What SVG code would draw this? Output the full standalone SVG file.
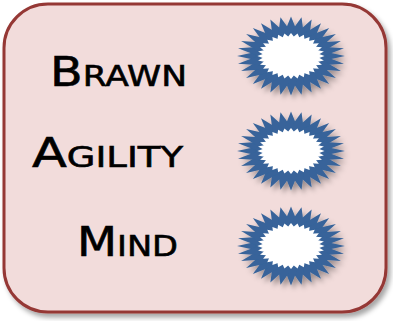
<svg xmlns="http://www.w3.org/2000/svg" xmlns:xlink="http://www.w3.org/1999/xlink" width="393" height="321" viewBox="0 0 393 321">
<style>
.lbl{font-family:"Comic Sans MS","DejaVu Sans","Liberation Sans",sans-serif;font-weight:normal;fill:#000;stroke:#000;stroke-width:0.6}
.big{font-size:40px}
.sm{font-size:29px}
</style>
<defs>
<filter id="sh" x="-20%" y="-20%" width="140%" height="140%">
<feDropShadow dx="3" dy="4" stdDeviation="2.5" flood-color="#000" flood-opacity="0.35"/>
</filter>
<polygon id="rhA" points="1,0 0,0.30 -1,0 0,-0.30"/>
<polygon id="rhB" points="1,0 0,0.55 -1,0 0,-0.55"/>
<g id="burstA">
<use xlink:href="#rhA"/>
<use xlink:href="#rhA" transform="rotate(11.25)"/>
<use xlink:href="#rhA" transform="rotate(22.5)"/>
<use xlink:href="#rhA" transform="rotate(33.75)"/>
<use xlink:href="#rhA" transform="rotate(45)"/>
<use xlink:href="#rhA" transform="rotate(56.25)"/>
<use xlink:href="#rhA" transform="rotate(67.5)"/>
<use xlink:href="#rhA" transform="rotate(78.75)"/>
<use xlink:href="#rhA" transform="rotate(90)"/>
<use xlink:href="#rhA" transform="rotate(101.25)"/>
<use xlink:href="#rhA" transform="rotate(112.5)"/>
<use xlink:href="#rhA" transform="rotate(123.75)"/>
<use xlink:href="#rhA" transform="rotate(135)"/>
<use xlink:href="#rhA" transform="rotate(146.25)"/>
<use xlink:href="#rhA" transform="rotate(157.5)"/>
<use xlink:href="#rhA" transform="rotate(168.75)"/>
</g>
<g id="burstB">
<use xlink:href="#rhB"/>
<use xlink:href="#rhB" transform="rotate(11.25)"/>
<use xlink:href="#rhB" transform="rotate(22.5)"/>
<use xlink:href="#rhB" transform="rotate(33.75)"/>
<use xlink:href="#rhB" transform="rotate(45)"/>
<use xlink:href="#rhB" transform="rotate(56.25)"/>
<use xlink:href="#rhB" transform="rotate(67.5)"/>
<use xlink:href="#rhB" transform="rotate(78.75)"/>
<use xlink:href="#rhB" transform="rotate(90)"/>
<use xlink:href="#rhB" transform="rotate(101.25)"/>
<use xlink:href="#rhB" transform="rotate(112.5)"/>
<use xlink:href="#rhB" transform="rotate(123.75)"/>
<use xlink:href="#rhB" transform="rotate(135)"/>
<use xlink:href="#rhB" transform="rotate(146.25)"/>
<use xlink:href="#rhB" transform="rotate(157.5)"/>
<use xlink:href="#rhB" transform="rotate(168.75)"/>
</g>
<g id="star">
<g filter="url(#sh)"><use xlink:href="#burstA" fill="#37649a" transform="scale(54,39.5)"/></g>
<use xlink:href="#burstB" fill="#ffffff" transform="scale(33.5,23)"/>
</g>
</defs>
<g id="frame">
<rect x="4" y="4" width="382" height="308" rx="44" ry="44" fill="#f2dcdb" stroke="#953735" stroke-width="3" filter="url(#sh)"/>
</g>
<g id="connectors"/>
<g id="brawn">
<text class="lbl" x="50" y="86" textLength="137" lengthAdjust="spacingAndGlyphs"><tspan class="big">B</tspan><tspan class="sm">RAWN</tspan></text>
</g>
<g id="agility">
<text class="lbl" x="32" y="167" textLength="151" lengthAdjust="spacingAndGlyphs"><tspan class="big">A</tspan><tspan class="sm">GILITY</tspan></text>
</g>
<g id="mind">
<text class="lbl" x="77" y="256" textLength="101" lengthAdjust="spacingAndGlyphs"><tspan class="big">M</tspan><tspan class="sm">IND</tspan></text>
</g>
<g id="star1"><use xlink:href="#star" transform="translate(291,56)"/></g>
<g id="star2"><use xlink:href="#star" transform="translate(291,151)"/></g>
<g id="star3"><use xlink:href="#star" transform="translate(291,246)"/></g>
</svg>
